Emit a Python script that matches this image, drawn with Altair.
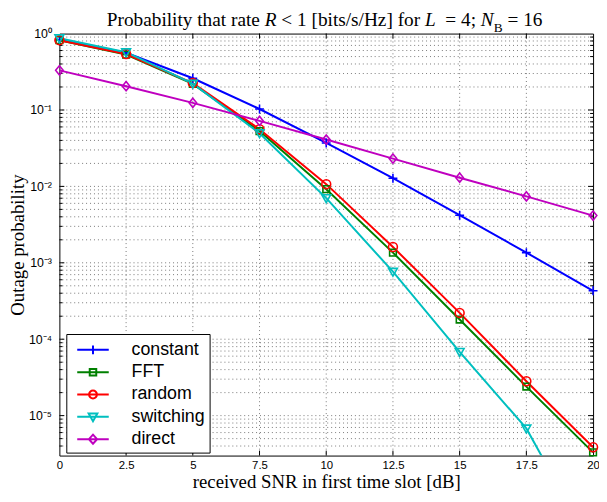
import altair as alt
import pandas as pd

# ---------------- data ----------------
snr = [0, 2.5, 5, 7.5, 10, 12.5, 15, 17.5, 20]
constant = [0.83, 0.56, 0.26, 0.103, 0.037, 0.0128, 0.0042, 0.00136, 0.00043]
fft = [0.82, 0.53, 0.22, 0.053, 0.0092, 0.00136, 0.000181, 0.000024, 0.0000033]
random_ = [0.82, 0.54, 0.225, 0.056, 0.0107, 0.00161, 0.000221, 0.0000282, 0.00000386]
switching = [0.87, 0.57, 0.221, 0.0497, 0.00703, 0.000765, 0.0000683, 0.0000068, 0.00000018]
direct = [0.33, 0.205, 0.124, 0.072, 0.041, 0.0231, 0.013, 0.0074, 0.00415]

series_names = ["constant", "FFT", "random", "switching", "direct"]
series_values = [constant, fft, random_, switching, direct]
colors = ["#0000ff", "#008000", "#ff0000", "#00bfbf", "#bf00bf"]

x_ticks = [0, 2.5, 5, 7.5, 10, 12.5, 15, 17.5, 20]
y_ticks = [1e-5, 1e-4, 1e-3, 1e-2, 1e-1, 1]
y_min, y_max = 3e-6, 1

# marker outlines (unit box) for the plot
marker_paths = [
    "M-1,0H1M0,-1V1",
    "M-0.75,-0.75H0.75V0.75H-0.75Z",
    "M1,0A1,1 0 1,1 -1,0A1,1 0 1,1 1,0Z",
    "M-1,-0.75H1L0,1Z",
    "M0,-1.05L0.85,0L0,1.05L-0.85,0Z",
]
# legend symbols: a line segment with the marker in its middle
LN = "M-1.45,0H1.45"
legend_paths = [
    LN + "M0,-0.4V0.4",
    LN + "M-0.3,-0.3H0.3V0.3H-0.3Z",
    LN + "M0.36,0A0.36,0.36 0 1,1 -0.36,0A0.36,0.36 0 1,1 0.36,0Z",
    LN + "M-0.4,-0.3H0.4L0,0.4Z",
    LN + "M0,-0.42L0.38,0L0,0.42L-0.38,0Z",
]

rows = []
for k, (name, vals) in enumerate(zip(series_names, series_values)):
    for xv, yv in zip(snr, vals):
        rows.append({"snr": xv, "p": yv, "series": name, "k": k})
df = pd.DataFrame(rows)

minor, minor_only = [], []
for e in range(-6, 1):
    for m in range(1, 10):
        v = m * 10.0 ** e
        if y_min * 1.01 < v < y_max * 0.99:
            minor.append(v)
            if m > 1:
                minor_only.append(v)
df_h = pd.DataFrame({"v": minor})
df_v = pd.DataFrame({"v": [t for t in x_ticks if 0 < t < 20]})
df_ymaj = pd.DataFrame({"v": [t for t in y_ticks if t < 1]})
df_ymin = pd.DataFrame({"v": minor_only})

W, H = 540, 427
xscale = alt.Scale(domain=[0, 20], nice=False, zero=False)
yscale = alt.Scale(type="log", domain=[y_min, y_max], nice=False)

legend = alt.Legend(
    title=None, orient="none", legendX=7, legendY=304,
    strokeColor="black", fillColor="white", padding=4, cornerRadius=0,
    symbolSize=484, symbolStrokeWidth=2, symbolOffset=11, labelOffset=27,
    symbolFillColor="transparent", symbolOpacity=1,
    labelFont="Liberation Sans", labelFontSize=18, labelColor="black",
    rowPadding=1.6, labelLimit=300,
)

color = alt.Color("series:N", scale=alt.Scale(domain=series_names, range=colors),
                  sort=series_names, legend=legend)

xaxis = alt.Axis(
    values=x_ticks, grid=False, ticks=False, tickSize=0, domain=False,
    labelExpr="datum.value % 1 === 0 ? format(datum.value, 'd') : format(datum.value, '.1f')",
    labelFlush=False,
    labelFont="Liberation Sans", labelFontSize=11.5, labelColor="black", labelPadding=4,
    title="received SNR in first time slot [dB]", titleFont="Liberation Serif",
    titleFontSize=19, titleFontWeight="normal", titleColor="black",
    titleBaseline="alphabetic", titleY=32)
yaxis = alt.Axis(
    values=y_ticks, grid=False, ticks=False, tickSize=0, domain=False,
    labelExpr="['10⁻⁵','10⁻⁴','10⁻³','10⁻²','10⁻¹','10⁰'][round(log(datum.value)/LN10)+5]",
    labelFont="Liberation Sans", labelFontSize=12.5, labelColor="black", labelPadding=8,
    title="Outage probability", titleFont="Liberation Serif", titleFontSize=19,
    titleFontWeight="normal", titleColor="black", titleBaseline="alphabetic",
    titleX=-36, titleY=H / 2)

X = lambda fld: alt.X(fld, scale=xscale, axis=xaxis)
Y = lambda fld: alt.Y(fld, scale=yscale, axis=yaxis)

grid_style = dict(color="#222", strokeWidth=1, strokeDash=[1, 3], opacity=0.6)
hgrid = alt.Chart(df_h).mark_rule(**grid_style).encode(y=Y("v:Q"))
vgrid = alt.Chart(df_v).mark_rule(**grid_style).encode(x=X("v:Q"))

# inward tick marks on all four sides (MATLAB box style)
tick_style = dict(color="black", strokeWidth=1)
ticks = [
    alt.Chart(df_ymaj).mark_rule(**tick_style).encode(y=Y("v:Q"), x=alt.value(0), x2=alt.value(5)),
    alt.Chart(df_ymaj).mark_rule(**tick_style).encode(y=Y("v:Q"), x=alt.value(W - 5), x2=alt.value(W)),
    alt.Chart(df_ymin).mark_rule(**tick_style).encode(y=Y("v:Q"), x=alt.value(0), x2=alt.value(3)),
    alt.Chart(df_ymin).mark_rule(**tick_style).encode(y=Y("v:Q"), x=alt.value(W - 3), x2=alt.value(W)),
    alt.Chart(df_v).mark_rule(**tick_style).encode(x=X("v:Q"), y=alt.value(H - 5), y2=alt.value(H)),
    alt.Chart(df_v).mark_rule(**tick_style).encode(x=X("v:Q"), y=alt.value(0), y2=alt.value(5)),
]

lines = alt.Chart(df).mark_line(strokeWidth=2, clip=True).encode(
    x=X("snr:Q"), y=Y("p:Q"), color=color, order="snr:Q")

point_layers = []
for name, path in zip(series_names, marker_paths):
    point_layers.append(
        alt.Chart(df).transform_filter(
            f"datum.series === '{name}' && datum.p >= {y_min}"
        ).mark_point(filled=False, size=81, strokeWidth=1.6, opacity=1, shape=path).encode(
            x=X("snr:Q"), y=Y("p:Q"), color=color)
    )

# empty layer that only carries the legend symbols (line + marker)
legend_layer = alt.Chart(df).transform_filter("false").mark_point(
    filled=False, strokeWidth=2).encode(
    x=X("snr:Q"), y=Y("p:Q"), color=color,
    shape=alt.Shape("series:N", scale=alt.Scale(domain=series_names, range=legend_paths),
                    sort=series_names, legend=legend))

# title built from pieces (italic symbols and subscript)
f = 19.5
S = 48
title_parts = [
    ("Probability that rate", S, -8, f, "normal"),
    ("R", S + 8.195 * f, -8, f, "italic"),
    ("< 1 [bits/s/Hz] for", S + 9.056 * f, -8, f, "normal"),
    ("L", S + 16.508 * f, -8, f, "italic"),
    ("= 4;", S + 17.564 * f, -8, f, "normal"),
    ("N", S + 19.406 * f, -8, f, "italic"),
    ("B", S + 20.073 * f, -2, 13.5, "normal"),
    ("= 16", S + 20.79 * f, -8, f, "normal"),
]
one = pd.DataFrame({"a": [0]})
title_layers = [
    alt.Chart(one).mark_text(align="left", baseline="alphabetic", font="Liberation Serif",
                             fontSize=fs, fontStyle=st, color="black").encode(
        x=alt.value(xx), y=alt.value(yy), text=alt.value(txt))
    for (txt, xx, yy, fs, st) in title_parts
]

chart = alt.layer(vgrid, hgrid, *ticks, lines, *point_layers, legend_layer, *title_layers).properties(
    width=W, height=H,
    autosize=alt.AutoSizeParams(type="none"),
    padding={"left": 52, "top": 23, "right": 6, "bottom": 36},
).configure(background="white").configure_view(stroke="black", strokeWidth=1)

chart.save("out.html", embed_options={"renderer": "svg", "actions": False})
